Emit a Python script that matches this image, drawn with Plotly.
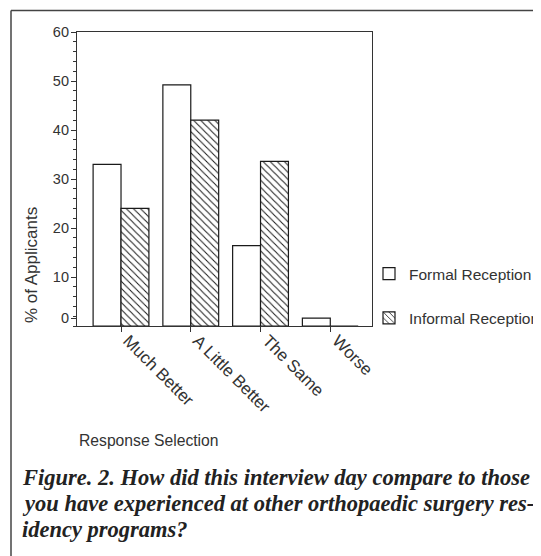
import plotly.graph_objects as go

categories = ["Much Better", "A Little Better", "The Same", "Worse"]
formal = [33.0, 49.2, 16.4, 1.6]
informal = [24.0, 42.0, 33.6, 0.0]
series_names = ["Formal Reception", "Informal Reception"]
y_tick_vals = [1.6, 10, 20, 30, 40, 50, 60]
y_tick_text = ["0", "10", "20", "30", "40", "50", "60"]
caption_lines = [
    "Figure. 2. How did this interview day compare to those",
    "you have experienced at other orthopaedic surgery res-",
    "idency programs?",
]

# the page body adds an 8px margin, so the figure is drawn 8px smaller
OFF = 8
W, H = 541 - OFF, 556 - OFF
# plot frame in page pixels
L, R, T, B = 77, 372, 31.5, 326
FONT = "Liberation Sans, Arial, sans-serif"
INK = "#333333"

def px_x(p):
    return (p - L) / (R - L)

def px_y(p):
    return (B - p) / (B - T)

fig = go.Figure()
fig.add_trace(go.Bar(
    x=categories, y=formal, name=series_names[0], legendgroup="a",
    marker=dict(color="white", line=dict(color="#1a1a1a", width=1.2)),
))
fig.add_trace(go.Bar(
    x=categories, y=informal, name=series_names[1], legendgroup="b",
    marker=dict(color="white", line=dict(color="#1a1a1a", width=1.2),
                pattern=dict(shape="\\", size=5, solidity=0.2,
                             fgcolor="#1a1a1a", bgcolor="white", fillmode="replace")),
))

fig.update_layout(
    width=W, height=H,
    margin=dict(l=L - OFF, r=W - (R - OFF), t=T - OFF, b=H - (B - OFF), autoexpand=False),
    paper_bgcolor="white", plot_bgcolor="white",
    barmode="group", bargap=0.2, bargroupgap=0,
    font=dict(family=FONT, color=INK, size=15),
    showlegend=True,
    legend=dict(x=px_x(369), y=px_y(257), xanchor="left", yanchor="top",
                font=dict(size=15.5, color=INK), tracegroupgap=21,
                bgcolor="rgba(0,0,0,0)", itemclick=False),
    xaxis=dict(type="category", range=[-0.631, 3.598], showline=True, mirror=True,
               linecolor="#333333", linewidth=1.2, ticks="outside", ticklen=5,
               tickcolor="#333333", tickangle=45, tickfont=dict(size=17, color=INK),
               ticklabelshift=7, ticklabelstandoff=-8,
               showgrid=False, zeroline=False),
    yaxis=dict(range=[0, 60], showline=True, mirror=True, linecolor="#333333",
               linewidth=1.2, ticks="outside", ticklen=5, tickcolor="#333333",
               ticklabelstandoff=-1,
               tickvals=y_tick_vals, ticktext=y_tick_text, tickfont=dict(size=14.5, color=INK),
               minor=dict(dtick=2, tick0=0, ticks="outside", ticklen=3, tickcolor="#333333"),
               showgrid=False, zeroline=False),
)

annotations = [
    dict(text="% of Applicants", x=px_x(31), y=px_y(265), xref="paper", yref="paper",
         textangle=-90, showarrow=False, font=dict(size=17, color=INK),
         xanchor="center", yanchor="middle"),
    dict(text="Response Selection", x=px_x(77), y=px_y(441), xref="paper", yref="paper",
         showarrow=False, font=dict(size=15.7, color=INK), xanchor="left", yanchor="middle"),
]
for i, line in enumerate(caption_lines):
    annotations.append(dict(
        text="<b><i>" + line + "</i></b>", x=px_x(20), y=px_y(478 + 26 * i),
        xref="paper", yref="paper", showarrow=False, xanchor="left", yanchor="middle",
        font=dict(family="Liberation Serif, serif", size=22.5, color="#222222")))
fig.update_layout(annotations=annotations)

fig.add_shape(type="line", xref="paper", yref="paper", x0=px_x(11), x1=px_x(11),
              y0=px_y(10), y1=px_y(620), line=dict(color="#444444", width=1.5))
fig.add_shape(type="line", xref="paper", yref="paper", x0=px_x(11), x1=px_x(620),
              y0=px_y(10), y1=px_y(10), line=dict(color="#444444", width=1.5))

fig.write_html("out.html")
